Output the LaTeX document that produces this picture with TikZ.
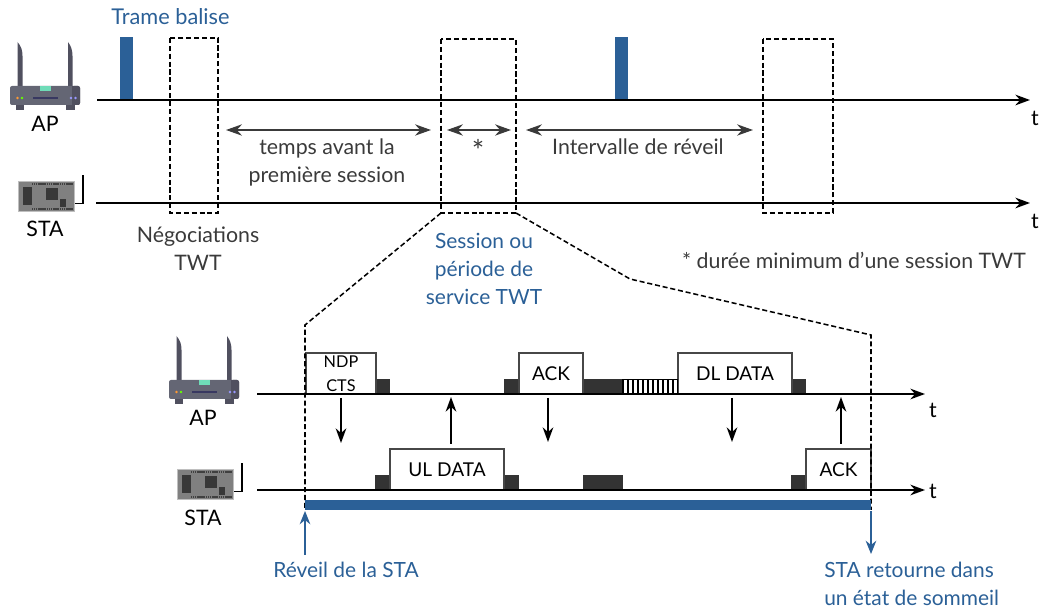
\documentclass[tikz,border=0pt]{standalone}
\usepackage{fontspec}
\setmainfont{Lato}
\usetikzlibrary{arrows.meta,calc}
\definecolor{blu}{HTML}{2B6097}
\definecolor{dk}{HTML}{333333}
\definecolor{txt}{HTML}{3A3A3A}
\definecolor{rt}{HTML}{646674}
\definecolor{rtd}{HTML}{50505F}
\definecolor{mint}{HTML}{6FDCB8}
\tikzset{
 x=0.75pt,y=-0.75pt,
 tl/.style={line width=1.4pt,-{Stealth[length=11pt,width=8pt]},black},
 dbl/.style={line width=1pt,txt,{Stealth[length=12pt,width=8.5pt]}-{Stealth[length=12pt,width=8.5pt]}},
 sig/.style={line width=1.1pt,black,-{Stealth[length=11pt,width=8pt]}},
 dsh/.style={line width=1.15pt,dash pattern=on 3.8pt off 2.1pt,black},
 lab/.style={font=\fontsize{16}{21}\selectfont,text=txt,inner sep=0pt,align=center},
 blab/.style={lab,font=\fontsize{15.7}{21}\selectfont,text=blu},
 blk/.style={lab,text=black},
 frame/.style={draw=dk!90,line width=1.3pt,fill=white,inner sep=0pt,outer sep=0pt,anchor=south west,font=\fontsize{14.3}{18}\selectfont,align=center},
 dark/.style={fill=dk,draw=none,inner sep=0pt,outer sep=0pt,anchor=south west},
 beacon/.style={fill=blu,draw=none,inner sep=0pt,outer sep=0pt,anchor=south west},
}
\newcommand{\routericon}[2]{%
 \begin{scope}[shift={(#1,#2)}]
  \fill[rtd] (17.5,86) -- (17.5,42) .. controls (21,46) and (22.5,50) .. (22.5,56) -- (22.5,86) -- cycle;
  \fill[rtd] (68,86) -- (68,42) .. controls (71,46) and (72.5,50) .. (72.5,56) -- (72.5,86) -- cycle;
  \fill[rtd] (16,104) rectangle (24,110);
  \fill[rtd] (66,104) rectangle (75,110);
  \fill[rt,rounded corners=1.5pt] (10,86) rectangle (80,105);
  \fill[rtd,rounded corners=1.5pt] (72,86) rectangle (80,105);
  \fill[rtd] (72,86) rectangle (75,105);
  \fill[mint] (40,86) rectangle (51,91);
  \fill[black!60!blue!30!rtd] (33,97) rectangle (58,99);
  \fill[orange!80] (17.5,98) circle (1pt);
  \fill[green!60!yellow] (22,98) circle (1pt);
  \fill[blue!40!white] (71,98) circle (1pt);
  \fill[blue!40!white] (75.5,98) circle (1pt);
 \end{scope}}
\newcommand{\boardicon}[2]{%
 \begin{scope}[shift={(#1,#2)}]
  \fill[black!50,draw=black!25,line width=0.4pt] (18,181) rectangle (74,211.5);
  \fill[black!78] (23,187) rectangle (32,205);
  \fill[black!78] (46,188) rectangle (58,200);
  \fill[black!78] (60,199) rectangle (66,207);
  \draw[black!75,line width=1.6pt,dash pattern=on 1pt off 0.4pt] (32,184) -- (73,184);
  \draw[black!75,line width=1.6pt,dash pattern=on 1pt off 0.4pt] (32,209) -- (73,209);
  \draw[black,line width=0.8pt] (75,203.5) -- (83,203.5) -- (83,175);
 \end{scope}}
\begin{document}
\begin{tikzpicture}
\useasboundingbox (0,0) rectangle (1040,609);
\routericon{0}{0}
\boardicon{0}{0}
\routericon{159}{294}
\boardicon{159}{288}
% timelines
\coordinate (apA) at (97,100); \coordinate (apB) at (1030,100);
\coordinate (stA) at (96,203); \coordinate (stB) at (1030,203);
\coordinate (apC) at (257,394); \coordinate (apD) at (925,394);
\coordinate (stC) at (257,490); \coordinate (stD) at (925,490);
% beacons
\node[beacon,minimum width=9.5pt,minimum height=47.5pt] (b1) at (120,100) {};
\node[beacon,minimum width=9.5pt,minimum height=47.5pt] (b2) at (615,100) {};
\draw[tl] (apA) -- (apB);
\draw[tl] (stA) -- (stB);
\node[blk] (tA) at (1035,118) {t};
\node[blk] (tB) at (1035,221) {t};
\node[blab,font=\fontsize{16.3}{21}\selectfont] (ltb) at (170.5,16.5) {Trame balise};
\node[blk] (lap) at (45,124) {AP};
\node[blk] (lsta) at (45,229) {STA};
% dashed boxes
\coordinate (d1a) at (170,38); \coordinate (d1b) at (218,213);
\coordinate (d2a) at (441,39); \coordinate (d2b) at (516,213);
\coordinate (d3a) at (763,39); \coordinate (d3b) at (833,213);
\draw[dsh] (d1a) rectangle (d1b);
\draw[dsh] (d2a) rectangle (d2b);
\draw[dsh] (d3a) rectangle (d3b);
% intervals
\coordinate (i1a) at (226,130); \coordinate (i1b) at (431,130);
\coordinate (i2a) at (447,130); \coordinate (i2b) at (511,130);
\coordinate (i3a) at (526,130); \coordinate (i3b) at (753,130);
\draw[dbl] (i1a) -- (i1b);
\draw[dbl] (i2a) -- (i2b);
\draw[dbl] (i3a) -- (i3b);
\node[lab] (l1) at (327,162) {temps avant la\\première session};
\node[lab,font=\fontsize{22}{21}\selectfont] (l2) at (478,150) {*};
\node[lab] (l3) at (638,147) {Intervalle de réveil};
\node[lab] (l4) at (198,249) {Négociations\\TWT};
\node[blab] (l5) at (484,269) {Session ou\\période de\\service TWT};
\node[lab] (l6) at (854,260) {* durée minimum d’une session TWT};
% lower frames
\node[dark,minimum width=10.5pt,minimum height=11.2pt] (k1) at (376,394) {};
\node[dark,minimum width=11pt,minimum height=11.2pt] (k2) at (504,394) {};
\node[dark,minimum width=30pt,minimum height=11.2pt] (k3) at (583,394) {};
\node[dark,minimum width=11pt,minimum height=11.2pt] (k4) at (791,394) {};
\node[dark,minimum width=11pt,minimum height=11.2pt] (k5) at (375,490) {};
\node[dark,minimum width=11pt,minimum height=11.2pt] (k6) at (504,490) {};
\node[dark,minimum width=30pt,minimum height=11.2pt] (k7) at (583,490) {};
\node[dark,minimum width=11pt,minimum height=11.2pt] (k8) at (791,490) {};
\node[frame,minimum width=52.5pt,minimum height=30.7pt] (f1) at (306,394) {};
\node[font=\fontsize{12.2}{18}\selectfont,inner sep=0pt,align=center] (f1t) at (341,374) {NDP\\CTS};
\node[frame,minimum width=48pt,minimum height=30.7pt] (f2) at (519,394) {ACK};
\node[frame,minimum width=85.5pt,minimum height=30.7pt] (f3) at (678,394) {DL DATA};
\node[frame,minimum width=85.5pt,minimum height=30.7pt] (f4) at (390,490) {UL DATA};
\node[frame,minimum width=48.7pt,minimum height=30.7pt] (f5) at (806,490) {ACK};
% hatched
\node[draw=black,line width=1.1pt,inner sep=0pt,outer sep=0pt,anchor=south west,minimum width=41pt,minimum height=11pt] (h) at (623,394) {};
\foreach \i in {1,...,10}{\draw[black,line width=1.2pt] ($(h.south west)!{\i/11}!(h.south east)$) -- ($(h.north west)!{\i/11}!(h.north east)$);}
\draw[tl] (apC) -- (apD);
\draw[tl,line width=1.2pt] (stC) -- (stD);
\node[blk] (tC) at (933,410) {t};
\node[blk] (tD) at (933,491) {t};
\node[blk] (lap2) at (203,418) {AP};
\node[blk] (lsta2) at (203,518) {STA};
% zoom lines
\coordinate (zl) at (305,325); \coordinate (zr1) at (630,279); \coordinate (zr2) at (871,335);
\coordinate (zlb) at (305,510); \coordinate (zrb) at (871,510);
\coordinate (d2bl) at (441,213); \coordinate (d2br) at (516,213);
\draw[dsh] (d2bl) -- (zl) -- (zlb);
\draw[dsh] (d2br) -- (zr1) -- (zr2) -- (zrb);
% signals
\coordinate (s1a) at (341,398); \coordinate (s1b) at (341,443);
\coordinate (s2a) at (451,444); \coordinate (s2b) at (451,397);
\coordinate (s3a) at (548,398); \coordinate (s3b) at (548,442);
\coordinate (s4a) at (732,398); \coordinate (s4b) at (732,442);
\coordinate (s5a) at (841,444); \coordinate (s5b) at (841,397);
\draw[sig] (s1a) -- (s1b);
\draw[sig] (s2a) -- (s2b);
\draw[sig] (s3a) -- (s3b);
\draw[sig] (s4a) -- (s4b);
\draw[sig] (s5a) -- (s5b);
% sleep bar
\node[beacon,minimum width=424.5pt,minimum height=7.5pt] (bar) at (305,510) {};
\coordinate (w1) at (305,555); \coordinate (w2) at (305,511);
\coordinate (w3) at (871,511); \coordinate (w4) at (871,554);
\draw[line width=0.9pt,blu,-{Stealth[length=10pt,width=8pt]}] (w1) -- (w2);
\draw[line width=0.9pt,blu,-{Stealth[length=10pt,width=8pt]}] (w3) -- (w4);
\node[blab] (l7) at (346,570) {Réveil de la STA};
\node[blab,align=left,anchor=west] (l8) at (824,584) {STA retourne dans\\un état de sommeil};
\end{tikzpicture}
\end{document}
